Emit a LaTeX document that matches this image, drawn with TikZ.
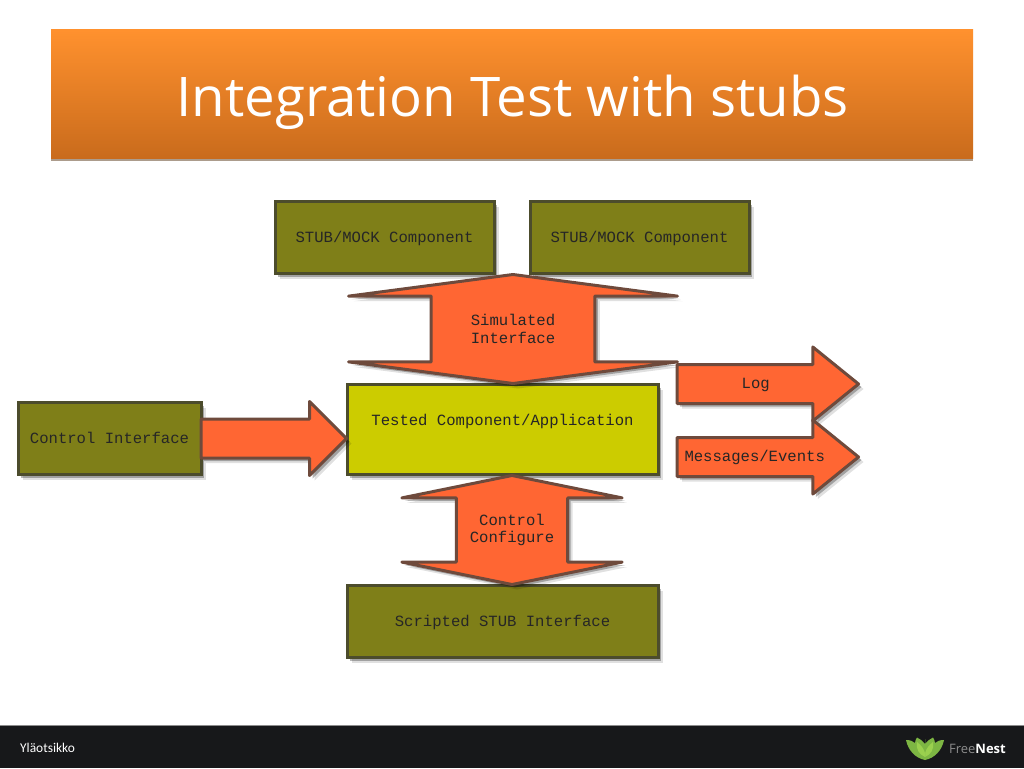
\documentclass[tikz,border=0pt]{standalone}
\usepackage{fontspec}
\setmainfont{Open Sans}
\setmonofont{Liberation Mono}
\newfontfamily\footfont{Carlito}
\usetikzlibrary{arrows.meta,calc,positioning,shadows,shapes.arrows}

\definecolor{barTop}{HTML}{FF912E}
\definecolor{barBottom}{HTML}{C96B1C}
\definecolor{barEdge}{HTML}{AC9C8C}
\definecolor{boxFill}{HTML}{7F7F18}
\definecolor{boxEdge}{HTML}{4C4C2C}
\definecolor{testFill}{HTML}{CCCC00}
\definecolor{arrowFill}{HTML}{FF6633}
\definecolor{arrowEdge}{HTML}{6E4A3C}
\definecolor{footFill}{HTML}{17181A}
\definecolor{leafGreen}{HTML}{7DB643}
\definecolor{leafLight}{HTML}{9AD04E}

\begin{document}
\begin{tikzpicture}[
  x=1pt, y=-1pt,
  softshadow/.style={
    drop shadow={shadow xshift=5pt, shadow yshift=-5pt, fill=black, opacity=0.12},
    drop shadow={shadow xshift=3pt, shadow yshift=-3pt, fill=black, opacity=0.28}},
  box/.style={draw=boxEdge, fill=boxFill, line width=3pt, outer sep=0pt, inner sep=0pt, align=center,
    font=\ttfamily\fontsize{15.6}{17.5}\selectfont, text=black!85, softshadow},
  stubbox/.style={box, minimum width=219pt, minimum height=72pt, text height=12pt, text depth=3pt},
  widebox/.style={box, minimum width=311pt},
  onearrow/.style={single arrow, draw=arrowEdge, fill=arrowFill, line width=3pt, line join=round, outer sep=0pt,
    inner xsep=0pt, inner ysep=11pt, text height=11pt, text depth=3pt,
    minimum width=71pt, single arrow head extend=17.5pt, anchor=tail, align=center,
    font=\ttfamily\fontsize{15.6}{17.5}\selectfont, text=black!85, softshadow},
  twoarrow/.style={double arrow, shape border rotate=90, draw=arrowEdge, fill=arrowFill, line width=3pt, line join=round,
    outer sep=0pt, inner ysep=0pt, minimum height=109pt, align=center,
    font=\ttfamily\fontsize{15.6}{17.5}\selectfont, text=black!85, softshadow}
]
\useasboundingbox (0,0) rectangle (1024,768);
\fill[white] (0,0) rectangle (1024,768);

% title bar
\fill[barEdge] (51,156) rectangle (973,161);
\node[minimum width=922pt, minimum height=128.5pt, inner sep=0pt, outer sep=0pt, top color=barTop, bottom color=barBottom] (titlebar) at (512,94.25) {};
\node[text=white, inner sep=0pt, font=\fontsize{54.6}{60}\selectfont] (title) at (512.5,102.5) {Integration Test with stubs};

% boxes
\node[stubbox] (stubleft) at (384.5,237.5) {STUB/MOCK Component};
\node[stubbox] (stubright) at (639.5,237.5) {STUB/MOCK Component};
\node[stubbox, minimum width=183pt] (control) at (109.5,438.5) {Control Interface};
\node[widebox, fill=testFill, minimum height=90pt] (tested) at (502.5,429.5) {Tested Component/Application\\[1.5pt] \mbox{}};
\node[stubbox, minimum width=311pt] (scripted) at (502.5,621.5) {Scripted STUB Interface};

% arrows
\node[twoarrow, inner xsep=38pt, minimum width=329pt, double arrow head extend=82.5pt, double arrow tip angle=165] (simulated)
  at (513,329) {Simulated\\Interface};
\node[twoarrow, inner xsep=12pt, minimum width=219pt, double arrow head extend=54.5pt, double arrow tip angle=157] (configure)
  at (512,530) {Control\\Configure};
\node[onearrow, minimum height=145.5pt, single arrow tip angle=90] (controlarrow) at (control.east) {};
\node[onearrow, minimum height=181.5pt, single arrow tip angle=78] (log) at (677,384) {Log};
\node[onearrow, minimum height=181.5pt, single arrow tip angle=78] (messages) at (677,457) {Messages/Events\hspace{2pt}};

% footer
\fill[footFill] (0,726) rectangle (1024,768);
\draw[black!45, line width=0.8pt] (0,725.6) -- (1024,725.6);
\node[anchor=west, inner sep=0pt, text=white, font=\footfont\fontsize{13.4}{14}\selectfont] (footer) at (20,748) {Yläotsikko};
\node[anchor=east, inner sep=0pt, text=white, font=\fontsize{13}{14}\selectfont] (brand) at (1006,749)
  {\textcolor{black!45}{Free}\textbf{Nest}};

% leaf logo
\foreach \s in {-1,1}{
  \fill[leafGreen, shift={(925,760)}, xscale=\s]
    (0,0) .. controls (-10,-2) and (-17,-10) .. (-19,-20) .. controls (-15,-20) and (-12,-19) .. (-10,-17)
    .. controls (-10,-19) and (-9,-21) .. (-8,-22.5) .. controls (-5,-21) and (-2,-19) .. (0,-16)
    .. controls (0,-18) and (0,-20) .. (0,-21) -- (0,0);
  \fill[leafLight, shift={(925,760)}, xscale=\s]
    (0,-3) .. controls (-6,-6) and (-9,-10) .. (-8,-18) .. controls (-4,-15) and (-1,-11) .. (0,-7) -- cycle;
}
\end{tikzpicture}
\end{document}
